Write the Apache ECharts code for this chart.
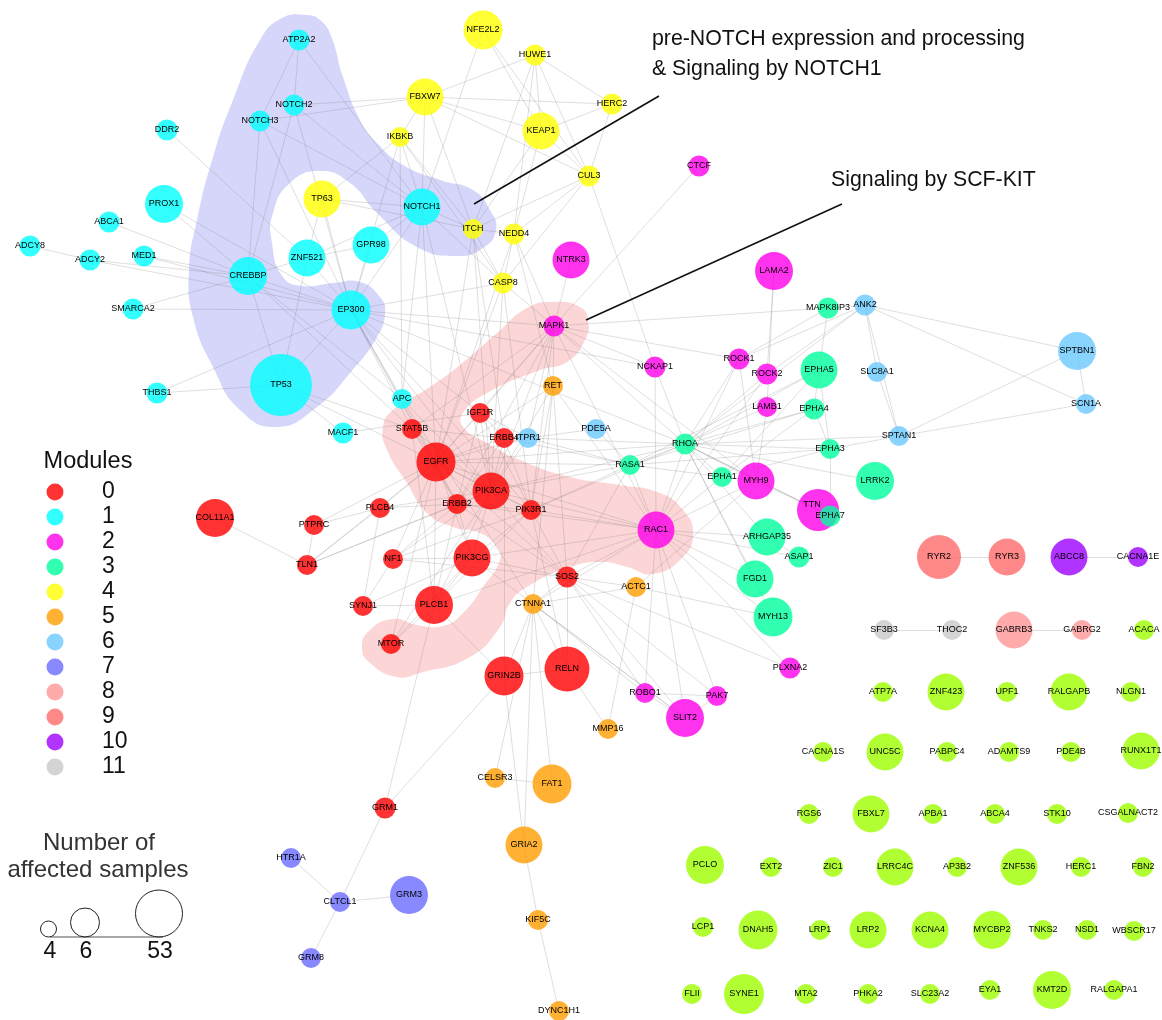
<!DOCTYPE html>
<html><head><meta charset="utf-8">
<style>html,body{margin:0;padding:0;background:#fff}#c{width:1162px;height:1020px}</style>
<script src="https://cdn.jsdelivr.net/npm/echarts@6/dist/echarts.min.js"></script>
</head><body><div id="c"></div>
<script>
const moduleLabels=['0','1','2','3','4','5','6','7','8','9','10','11','12'];
const moduleColors=['255,0,0','0,255,255','255,0,234','0,255,157','255,255,0','255,157,0','106,201,255','106,106,255','255,150,150','255,106,106','157,0,255','201,201,201','157,255,0'];

const m0Names=['IGF1R','STAT5B','ERBB4','EGFR','PIK3CA','ERBB2','PLCB4','PIK3R1','NF1','PIK3CG','SOS2','SYNJ1','PLCB1','MTOR','GRIN2B','RELN','COL11A1','PTPRC','TLN1','GRM1'];
const m0X=[480,412,504,436,491,457,380,531,393,472,567,363,434,391,504,567,215,314,307,385];
const m0Y=[413,429,438,462,491,504,508,510,559,558,577,606,605,644,676,669,518,525,565,808];
const m0D=[20,20,20,39,37,20,20,20,20,37,21,20,38,20,39,45,38,20,20,21];

const m1Names=['ATP2A2','NOTCH2','NOTCH3','DDR2','PROX1','ABCA1','ADCY8','ADCY2','MED1','CREBBP','SMARCA2','ZNF521','GPR98','EP300','TP53','THBS1','APC','NOTCH1','MACF1'];
const m1X=[299,294,260,167,164,109,30,90,144,248,133,307,371,351,281,157,402,422,343];
const m1Y=[40,105,121,130,204,222,246,260,256,276,309,258,245,310,385,393,399,207,433];
const m1D=[21,21,21,21,38,21,21,21,21,38,21,37,37,39,62,21,20,37,21];

const m2Names=['CTCF','NTRK3','MAPK1','LAMA2','NCKAP1','ROCK1','ROCK2','LAMB1','MYH9','TTN','RAC1','PLXNA2','ROBO1','PAK7','SLIT2'];
const m2X=[699,571,554,774,655,739,767,767,756,818,656,790,645,717,685];
const m2Y=[166,260,326,271,367,359,374,407,481,510,530,668,693,696,718];
const m2D=[21,37,21,38,21,21,21,20,37,42,37,21,20,20,38];

const m3Names=['MAPK8IP3','EPHA5','EPHA4','EPHA3','RHOA','RASA1','EPHA1','LRRK2','EPHA7','ARHGAP35','ASAP1','FGD1','MYH13'];
const m3X=[828,819,814,830,685,630,722,875,830,767,799,755,773];
const m3Y=[308,370,409,449,444,465,477,481,516,537,557,579,617];
const m3D=[21,37,21,20,21,20,20,38,21,37,21,37,39];

const m4Names=['TP63','FBXW7','IKBKB','NFE2L2','HUWE1','HERC2','KEAP1','CUL3','ITCH','NEDD4','CASP8'];
const m4X=[322,425,400,483,535,612,541,589,473,514,503];
const m4Y=[199,97,137,30,55,104,131,176,229,234,283];
const m4D=[37,37,20,39,21,21,37,21,20,21,21];

const m5Names=['RET','ACTC1','CTNNA1','MMP16','CELSR3','FAT1','GRIA2','KIF5C','DYNC1H1'];
const m5X=[553,636,533,608,495,552,524,538,559];
const m5Y=[386,587,604,729,778,784,845,920,1011];
const m5D=[20,20,20,20,20,39,37,20,20];

const m6Names=['ANK2','SLC8A1','SPTBN1','SCN1A','SPTAN1','ITPR1','PDE5A'];
const m6X=[865,877,1077,1086,899,528,596];
const m6Y=[305,372,351,404,436,438,429];
const m6D=[21,20,38,20,20,20,20];

const m7Names=['HTR1A','CLTCL1','GRM3','GRM8'];
const m7X=[291,340,409,311];
const m7Y=[858,902,895,958];
const m7D=[20,20,38,20];

const m8Names=['GABRB3','GABRG2'];
const m8X=[1014,1082];
const m8Y=[630,630];
const m8D=[37,20];

const m9Names=['RYR2','RYR3'];
const m9X=[939,1007];
const m9Y=[557,557];
const m9D=[44,37];

const m10Names=['ABCC8','CACNA1E'];
const m10X=[1069,1138];
const m10Y=[557,557];
const m10D=[37,20];

const m11Names=['SF3B3','THOC2'];
const m11X=[884,952];
const m11Y=[630,630];
const m11D=[20,20];

const m12Names=['ACACA','ATP7A','ZNF423','UPF1','RALGAPB','NLGN1','CACNA1S','UNC5C','PABPC4','ADAMTS9','PDE4B','RUNX1T1','RGS6','FBXL7','APBA1','ABCA4','STK10','CSGALNACT2','PCLO','EXT2','ZIC1','LRRC4C','AP3B2','ZNF536','HERC1','FBN2','LCP1','DNAH5','LRP1','LRP2','KCNA4','MYCBP2','TNKS2','NSD1','WBSCR17','FLII','SYNE1','MTA2','PHKA2','SLC23A2','EYA1','KMT2D','RALGAPA1'];
const m12X=[1144,883,946,1007,1069,1131,823,885,947,1009,1071,1141,809,871,933,995,1057,1128,705,771,833,895,957,1019,1081,1143,703,758,820,868,930,992,1043,1087,1134,692,744,806,868,930,990,1052,1114];
const m12Y=[630,692,692,692,692,692,752,752,752,752,752,751,814,814,814,814,814,813,865,867,867,867,867,867,867,867,927,930,930,930,930,930,930,930,931,994,994,994,994,994,990,990,990];
const m12D=[20,20,37,20,37,20,20,37,20,20,20,37,20,37,20,20,20,20,38,20,20,37,20,37,20,20,20,39,20,37,37,38,20,20,20,20,40,20,20,20,20,38,20];

const edgeList=[
'ATP2A2-NOTCH2','ATP2A2-NOTCH3','ATP2A2-NOTCH1','NOTCH2-CREBBP','NOTCH3-CREBBP','NOTCH2-FBXW7','NOTCH3-FBXW7','NOTCH2-NOTCH1','NOTCH3-NOTCH1','NOTCH2-EP300','NOTCH3-EP300',
'DDR2-ZNF521','PROX1-CREBBP','PROX1-EP300','ABCA1-CREBBP','ADCY8-ADCY2','ADCY2-CREBBP','ADCY2-EP300','MED1-CREBBP','MED1-EP300','SMARCA2-CREBBP','SMARCA2-EP300',
'CREBBP-EP300','CREBBP-TP53','CREBBP-ZNF521','CREBBP-APC','CREBBP-STAT5B','ZNF521-EP300','ZNF521-TP53','ZNF521-GPR98','ZNF521-NOTCH1','GPR98-EP300','TP63-EP300','TP63-ZNF521','TP63-IKBKB','TP63-NOTCH1','TP63-ITCH',
'EP300-TP53','EP300-THBS1','EP300-NOTCH1','EP300-CASP8','EP300-MAPK1','EP300-APC','EP300-STAT5B','EP300-EGFR','EP300-IGF1R','EP300-PIK3CA','EP300-ERBB2','EP300-RHOA','EP300-NCKAP1','EP300-PIK3R1','TP53-THBS1','TP53-EGFR','TP53-STAT5B','TP53-MACF1',
'APC-NOTCH1','APC-PIK3CA','APC-CTNNA1','APC-IKBKB','MACF1-IGF1R',
'NFE2L2-KEAP1','NFE2L2-CUL3','NFE2L2-NOTCH1','HUWE1-FBXW7','HUWE1-KEAP1','HUWE1-HERC2','HUWE1-NEDD4','HUWE1-CUL3','HUWE1-ITCH','FBXW7-HERC2','FBXW7-KEAP1','FBXW7-CUL3','FBXW7-ITCH','FBXW7-NOTCH1','FBXW7-IKBKB',
'HERC2-KEAP1','HERC2-CUL3','KEAP1-CUL3','KEAP1-NEDD4','KEAP1-ITCH','CUL3-NEDD4','CUL3-ITCH','CUL3-CASP8','CUL3-NCKAP1','IKBKB-NOTCH1','IKBKB-ITCH','IKBKB-EP300','IKBKB-CASP8',
'NOTCH1-ITCH','NOTCH1-GPR98','NOTCH1-CASP8','NOTCH1-EGFR','NOTCH1-PIK3CA','ITCH-NEDD4','ITCH-CASP8','ITCH-EGFR','ITCH-ERBB4','ITCH-PIK3CA','NEDD4-CASP8','NEDD4-MAPK1','NEDD4-RET','NEDD4-EGFR','CASP8-MAPK1','CASP8-EGFR','CASP8-PIK3R1','CASP8-PIK3CA',
'CTCF-MAPK1','NTRK3-MAPK1','LAMA2-LAMB1','LAMA2-ROCK2',
'MAPK1-MAPK8IP3','MAPK1-ROCK1','MAPK1-NCKAP1','MAPK1-RET','MAPK1-EGFR','MAPK1-PIK3CA','MAPK1-ERBB2','MAPK1-RHOA','MAPK1-IGF1R','MAPK1-PIK3R1','MAPK1-STAT5B','MAPK1-ITPR1','MAPK1-MYH9','MAPK1-RAC1',
'ANK2-ROCK1','ANK2-ROCK2','ANK2-RHOA','ANK2-MAPK8IP3','ANK2-SLC8A1','ANK2-SPTAN1','ANK2-SPTBN1','ANK2-SCN1A','SPTBN1-SCN1A','SPTBN1-SPTAN1','SCN1A-SPTAN1','SLC8A1-SPTAN1','MAPK8IP3-EPHA5','MAPK8IP3-ROCK1',
'EPHA5-EPHA4','EPHA5-EPHA3','EPHA5-RHOA','EPHA5-RASA1','EPHA5-EPHA1','EPHA4-EPHA3','EPHA4-RHOA','EPHA4-RASA1','EPHA4-EPHA1','EPHA3-EPHA7','EPHA3-RHOA','EPHA3-RASA1','EPHA3-SPTAN1','EPHA3-EPHA1','EPHA7-RHOA',
'RHOA-SPTAN1','RHOA-ROCK1','RHOA-ROCK2','RHOA-LAMB1','RHOA-EPHA1','RHOA-MYH9','RHOA-LRRK2','RHOA-ARHGAP35','RHOA-FGD1','RHOA-MYH13','RHOA-RASA1','RHOA-RAC1','RHOA-TTN','RHOA-PIK3CA','RHOA-EGFR','RHOA-PIK3R1','RHOA-NCKAP1',
'NCKAP1-RAC1','RAC1-ROCK1','RAC1-ROCK2','RAC1-MYH9','RAC1-ARHGAP35','RAC1-ASAP1','RAC1-FGD1','RAC1-MYH13','RAC1-PLXNA2','RAC1-ROBO1','RAC1-SLIT2','RAC1-PAK7','RAC1-SOS2','RAC1-PIK3CA','RAC1-PIK3CG','RAC1-PIK3R1','RAC1-EGFR','RAC1-ERBB2','RAC1-RASA1','RAC1-EPHA1','RAC1-CTNNA1','RAC1-RET','RAC1-PLCB1',
'MYH9-TTN','MYH9-ROCK1','MYH9-RASA1','MYH9-ACTC1','MYH9-LAMB1','MYH13-ACTC1','ARHGAP35-ASAP1','ACTC1-CTNNA1','ACTC1-SOS2',
'ROBO1-SLIT2','PAK7-SLIT2','ROBO1-PAK7','ROBO1-SOS2','ROBO1-CTNNA1','PLXNA2-SOS2','SLIT2-CTNNA1','SLIT2-SOS2','SLIT2-PIK3CG','PAK7-SOS2',
'RET-PIK3CA','RET-PIK3R1','RET-EGFR','RET-SOS2','RET-CTNNA1','PDE5A-ITPR1','PDE5A-RASA1','ITPR1-RHOA','ITPR1-EGFR','ITPR1-IGF1R','ITPR1-PIK3CA','ITPR1-RASA1',
'IGF1R-EGFR','IGF1R-ERBB2','IGF1R-ERBB4','IGF1R-PIK3CA','IGF1R-PIK3R1','STAT5B-EGFR','STAT5B-ERBB2','STAT5B-ERBB4','STAT5B-PIK3CA','STAT5B-PLCB1',
'ERBB4-EGFR','ERBB4-ERBB2','ERBB4-PIK3CA','ERBB4-PIK3R1','ERBB4-GRIN2B','ERBB4-RASA1','EGFR-PIK3CA','EGFR-ERBB2','EGFR-PIK3R1','EGFR-PIK3CG','EGFR-PLCB4','EGFR-PLCB1','EGFR-NF1','EGFR-SOS2','EGFR-RASA1','EGFR-MTOR','EGFR-PTPRC','EGFR-TLN1',
'PIK3CA-ERBB2','PIK3CA-PIK3R1','PIK3CA-PIK3CG','PIK3CA-PLCB4','PIK3CA-PLCB1','PIK3CA-NF1','PIK3CA-SOS2','PIK3CA-RASA1','PIK3CA-MTOR','PIK3CA-TLN1',
'ERBB2-PIK3R1','ERBB2-PIK3CG','ERBB2-PLCB4','ERBB2-PLCB1','ERBB2-NF1','ERBB2-SOS2','ERBB2-TLN1','PLCB4-PTPRC','PLCB4-SYNJ1','PIK3R1-PIK3CG','PIK3R1-PLCB1','PIK3R1-NF1','PIK3R1-SOS2','PIK3R1-RASA1','PIK3R1-RELN',
'NF1-PIK3CG','NF1-SOS2','NF1-SYNJ1','PIK3CG-PLCB1','PIK3CG-SOS2','PIK3CG-MTOR','PIK3CG-SYNJ1','SOS2-CTNNA1','SOS2-RASA1','SOS2-RELN','SYNJ1-PLCB1','PLCB1-MTOR','PLCB1-GRM1','CTNNA1-RELN','CTNNA1-GRIN2B',
'CTNNA1-CELSR3','CTNNA1-FAT1','CTNNA1-GRIA2','GRIN2B-RELN','GRIN2B-GRM1','GRIN2B-GRIA2','GRIN2B-PLCB1','GRM1-CLTCL1','CLTCL1-GRM3','CLTCL1-HTR1A','CLTCL1-GRM8','CELSR3-FAT1','GRIA2-KIF5C','KIF5C-DYNC1H1','MMP16-RELN','MMP16-ACTC1','COL11A1-TLN1','TLN1-PTPRC','TLN1-PLCB4',
'RYR2-RYR3','ABCC8-CACNA1E','SF3B3-THOC2','GABRB3-GABRG2'];

const blobBlueX=[306,320,331,343,360,377,403,440,473,490,496,483,457,417,377,350,320,290,273,272,283,303,333,360,380,385,377,350,317,277,240,213,193,189,197,213,233,260,282];
const blobBlueY=[15,20,36,77,120,143,165,180,190,210,230,248,256,247,213,183,171,183,213,243,277,286,283,282,297,313,337,373,407,427,410,367,317,270,220,157,100,40,18];
const blobPinkX=[553,580,588,585,567,540,487,463,463,487,520,570,620,660,683,693,683,653,627,603,570,527,510,500,470,420,397,370,362,370,393,417,443,463,483,500,497,480,453,427,407,387,383,393,430,460,497,527];
const blobPinkY=[302,307,320,340,362,370,393,413,427,443,460,477,485,493,510,533,557,574,567,562,567,587,603,627,657,673,677,663,647,630,619,625,626,613,587,560,547,533,527,513,483,450,427,410,387,365,333,308];
const blobColors=['#d6d6fb','#fcd6d6'];

const calloutA=[[474,204],[659,96]];
const calloutB=[[586,320],[842,204]];
const calloutText=['pre-NOTCH expression and processing','& Signaling by NOTCH1','Signaling by SCF-KIT'];
const calloutTextX=[652,652,831];
const calloutTextY=[39,69,180];

const legendDotX=55, legendLabelX=102;
const legendY=[492,517,542,567,592,617,642,667,692,717,742,767];
const sizeLegendLabels=['4','6','53'];
const sizeLegendX=[48.5,85,159];
const sizeLegendY=[929,922.5,913.5];
const sizeLegendD=[16,29,47];
const sizeLegendLabelX=[50,86,160];
const sizeBase=[[50,937],[163,937]];
const labelShift={TTN:[-6,-5]};

const moduleTables=[[m0Names,m0X,m0Y,m0D],[m1Names,m1X,m1Y,m1D],[m2Names,m2X,m2Y,m2D],[m3Names,m3X,m3Y,m3D],[m4Names,m4X,m4Y,m4D],[m5Names,m5X,m5Y,m5D],[m6Names,m6X,m6Y,m6D],[m7Names,m7X,m7Y,m7D],[m8Names,m8X,m8Y,m8D],[m9Names,m9X,m9Y,m9D],[m10Names,m10X,m10Y,m10D],[m11Names,m11X,m11Y,m11D],[m12Names,m12X,m12Y,m12D]];
const FONT='"Liberation Sans", Arial, sans-serif';
const rgba=i=>'rgba('+moduleColors[i]+',0.8)';
const nodes=[];
moduleTables.forEach((t,mi)=>{t[0].forEach((n,i)=>nodes.push({name:n,value:[t[1][i],t[2][i]],symbolSize:t[3][i],
  itemStyle:{color:rgba(mi),opacity:1},label:labelShift[n]?{offset:labelShift[n]}:undefined}));});
const links=edgeList.map(e=>{const p=e.split('-');return {source:p[0],target:p[1]};});
const blobs=[[blobBlueX,blobBlueY],[blobPinkX,blobPinkY]];

function textSeries(name,items,size,color,align){
  return {type:'scatter',name,z:6,silent:true,symbolSize:0,animation:false,itemStyle:{opacity:1},
    data:items.map(d=>({value:[d[1],d[2]],label:{formatter:()=>d[0]}})),
    label:{show:true,position:'inside',distance:0,fontFamily:FONT,fontSize:size,color,align:align,verticalAlign:'middle'}};
}
const chart=echarts.init(document.getElementById('c'),null,{renderer:'canvas'});
chart.setOption({animation:false,backgroundColor:'#fff',
  grid:{left:0,right:0,top:0,bottom:0,containLabel:false},
  xAxis:{type:'value',min:0,max:1162,show:false},
  yAxis:{type:'value',min:0,max:1020,inverse:true,show:false},
  series:[
    {type:'custom',name:'modules-hulls',z:1,silent:true,clip:false,data:[[0,0],[1,1]],
      renderItem:(p,api)=>{const b=blobs[p.dataIndex];
        const pts=b[0].map((x,i)=>api.coord([x,b[1][i]]));
        return {type:'polygon',shape:{points:pts,smooth:.5},style:{fill:blobColors[p.dataIndex]}};}},
    {type:'graph',name:'network',coordinateSystem:'cartesian2d',layout:'none',z:3,silent:true,
      data:nodes,links,edgeSymbol:['none','none'],
      lineStyle:{color:'rgba(110,110,110,0.32)',width:.7,opacity:1,curveness:0},
      label:{show:true,position:'inside',fontFamily:FONT,fontSize:9,color:'#000',formatter:'{b}'},
      emphasis:{disabled:true}},
    {type:'line',name:'callout-a',z:4,silent:true,showSymbol:false,data:calloutA,lineStyle:{color:'#111',width:1.6}},
    {type:'line',name:'callout-b',z:4,silent:true,showSymbol:false,data:calloutB,lineStyle:{color:'#111',width:1.6}},
    {type:'scatter',name:'legend-dots',z:5,silent:true,symbolSize:17,
      data:legendY.map((y,i)=>({value:[legendDotX,y],itemStyle:{color:rgba(i),opacity:1}}))},
    {type:'scatter',name:'size-legend',z:5,silent:true,
      data:sizeLegendX.map((x,i)=>({value:[x,sizeLegendY[i]],symbolSize:sizeLegendD[i]})),
      itemStyle:{color:'rgba(0,0,0,0)',borderColor:'#222',borderWidth:1,opacity:1}},
    {type:'line',name:'size-base',z:5,silent:true,showSymbol:false,data:sizeBase,lineStyle:{color:'#555',width:1.2}},
    textSeries('callouts',calloutText.map((t,i)=>[t,calloutTextX[i],calloutTextY[i]]),21.3,'#111','left'),
    textSeries('legend-title',[['Modules',88,462]],23.5,'#111','center'),
    textSeries('legend-labels',legendY.map((y,i)=>[moduleLabels[i],legendLabelX,y]),23,'#111','left'),
    textSeries('size-title',[['Number of',99,843],['affected samples',98,870]],24,'#333','center'),
    textSeries('size-labels',sizeLegendLabels.map((t,i)=>[t,sizeLegendLabelX[i],952]),23,'#111','center')
  ]});
</script></body></html>
